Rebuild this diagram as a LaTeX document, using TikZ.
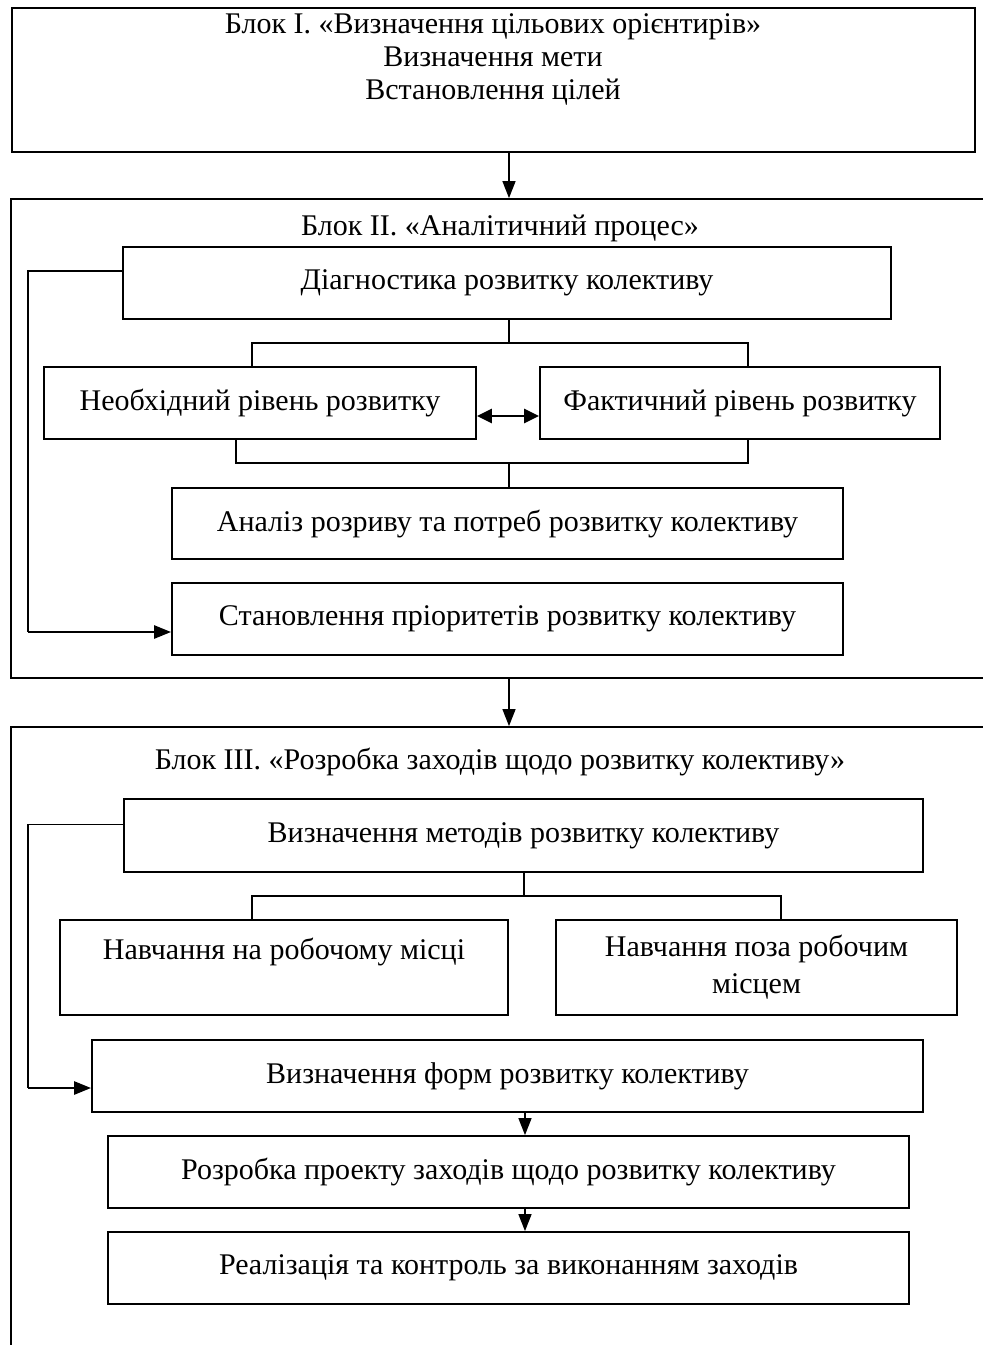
\documentclass[tikz,border=0pt]{standalone}
\usepackage{fontspec}
\setmainfont{Liberation Serif}
\usetikzlibrary{arrows.meta}

\begin{document}
\begin{tikzpicture}[
  x=1pt,
  y=-1pt,
  every node/.style={font=\fontsize{30}{33}\selectfont},
  frame/.style={
    draw,
    line width=1.8pt,
    inner sep=0pt
  },
  box/.style={
    draw,
    line width=1.8pt,
    align=center,
    inner sep=0pt
  },
  title/.style={align=center, inner sep=0pt},
  link/.style={line width=1.3pt},
  arrow/.style={-{Triangle[length=17pt,width=13pt]}, line width=1.4pt},
  feedback/.style={-{Triangle[length=17pt,width=13pt]}, line width=2.6pt},
  both/.style={{Triangle[length=15pt,width=14pt]}-{Triangle[length=15pt,width=14pt]}, line width=2.6pt}
]
\useasboundingbox (0,0) rectangle (983,1345);

% block I
\node[frame, minimum width=963, minimum height=144] (blockone) at (493.5,80) {};
\node[title] (goals) at (493,59) {Блок I. «Визначення цільових орієнтирів»\\Визначення мети\\Встановлення цілей};

% block II
\node[frame, minimum width=1000, minimum height=479] (blocktwo) at (511,438.5) {};
\node[title] (analysis) at (500,228) {Блок II. «Аналітичний процес»};
\node[box, minimum width=768, minimum height=72] (diag) at (507,283) {Діагностика розвитку колективу};
\node[box, minimum width=432, minimum height=72] (needed) at (260,403) {Необхідний рівень розвитку};
\node[box, minimum width=400, minimum height=72] (actual) at (740,403) {Фактичний рівень розвитку};
\node[box, minimum width=671, minimum height=71] (gap) at (507.5,523.5) {Аналіз розриву та потреб розвитку колективу};
\node[box, minimum width=671, minimum height=72] (prior) at (507.5,619) {Становлення пріоритетів розвитку колективу};

% block III
\node[frame, minimum width=1000, minimum height=640] (blockthree) at (511,1047) {};
\node[title] (measures) at (500,762) {Блок III. «Розробка заходів щодо розвитку колективу»};
\node[box, minimum width=799, minimum height=73] (methods) at (523.5,835.5) {Визначення методів розвитку колективу};
\node[box, minimum width=448, minimum height=95, font=\fontsize{30}{37}\selectfont] (onjob) at (284,967.5) {Навчання на робочому місці\\\mbox{}};
\node[box, minimum width=401, minimum height=95, font=\fontsize{30}{37}\selectfont] (offjob) at (756.5,967.5) {Навчання поза робочим\\місцем};
\node[box, minimum width=831, minimum height=72] (forms) at (507.5,1076) {Визначення форм розвитку колективу};
\node[box, minimum width=801, minimum height=72] (project) at (508.5,1172) {Розробка проекту заходів щодо розвитку колективу};
\node[box, minimum width=801, minimum height=72] (control) at (508.5,1268) {Реалізація та контроль за виконанням заходів};

% helper points
\coordinate (axis) at (509,0);
\coordinate (lowaxis) at (525,0);
\coordinate (leftrail) at (28,0);
\coordinate (forkone) at (509,343);
\coordinate (forkoneleft) at (252,343);
\coordinate (forkoneright) at (748,343);
\coordinate (joinone) at (509,463);
\coordinate (joinoneleft) at (236,463);
\coordinate (joinoneright) at (748,463);
\coordinate (forktwo) at (524,896);
\coordinate (forktwoleft) at (252,896);
\coordinate (forktworight) at (781,896);
\coordinate (outone) at ([yshift=12pt]diag.west);
\coordinate (backone) at ([yshift=-13pt]prior.west);
\coordinate (outtwo) at ([yshift=11pt]methods.west);
\coordinate (backtwo) at ([yshift=-12pt]forms.west);

% arrows between blocks
\draw[arrow] (axis |- blockone.south) -- (axis |- blocktwo.north);
\draw[arrow] (axis |- blocktwo.south) -- (axis |- blockthree.north);

% block II links
\draw[link] (forkone |- diag.south) -- (forkone);
\draw[link] (forkoneleft |- needed.north) -- (forkoneleft) -- (forkoneright) -- (forkoneright |- actual.north);
\draw[link] (joinoneleft |- needed.south) -- (joinoneleft) -- (joinoneright) -- (joinoneright |- actual.south);
\draw[link] (joinone) -- (joinone |- gap.north);
\draw[both] ([yshift=-13pt]needed.east) -- ([yshift=-13pt]actual.west);
\draw[link] (outone) -| (leftrail |- backone);
\draw[feedback] (leftrail |- backone) -- (backone);

% block III links
\draw[link] (forktwo |- methods.south) -- (forktwo);
\draw[link] (forktwoleft |- onjob.north) -- (forktwoleft) -- (forktworight) -- (forktworight |- offjob.north);
\draw[arrow] (lowaxis |- forms.south) -- (lowaxis |- project.north);
\draw[arrow] (lowaxis |- project.south) -- (lowaxis |- control.north);
\draw[link] (outtwo) -| (leftrail |- backtwo);
\draw[feedback] (leftrail |- backtwo) -- (backtwo);
\end{tikzpicture}
\end{document}
